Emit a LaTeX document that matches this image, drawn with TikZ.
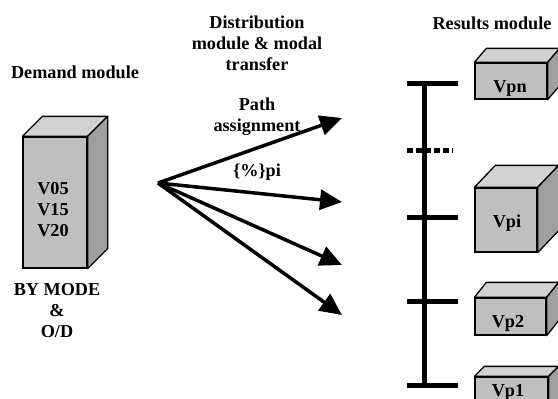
\documentclass[tikz,border=0pt]{standalone}
\usepackage{fontspec}
\setmainfont{Liberation Serif}
\usetikzlibrary{arrows.meta}

\tikzset{
  cubefront/.style={draw=black, line width=1.3pt, fill=gray!50, inner sep=0pt},
  boxtext/.style={font=\bfseries\fontsize{18.2}{21}\selectfont, align=center, inner sep=0pt},
  flow/.style={line width=3.5pt, -{Triangle[length=22pt,width=20pt]}},
  scalebar/.style={line width=5pt},
}

% top and side of a box drawn on a front node: name, dx, dy
\newcommand{\cubefaces}[3]{%
  \filldraw[fill=gray!35, line width=1.3pt, line join=round]
    (#1.north west) -- ++(#2,#3) -- ([shift={(#2,#3)}]#1.north east) -- (#1.north east) -- cycle;
  \filldraw[fill=gray!75, line width=1.3pt, line join=round]
    (#1.north east) -- ++(#2,#3) -- ([shift={(#2,#3)}]#1.south east) -- (#1.south east) -- cycle;
}

\begin{document}
\begin{tikzpicture}[x=1pt,y=-1pt]
\clip (0,0) rectangle (558,399);

% titles
\node[boxtext] (demandtitle) at (75,72) {Demand module};
\node[boxtext] (disttitle) at (257,43) {Distribution\\module \& modal\\transfer};
\node[boxtext] (restitle) at (492,23) {Results module};
\node[boxtext] (pathlabel) at (257,117) {Path\\assignment};
\node[boxtext] (pilabel) at (257,172) {\{\%\}pi};
\node[boxtext] (modelabel) at (57,311) {BY MODE\\\&\\O/D};

% demand box
\node[cubefront, minimum width=64, minimum height=131] (demand) at (55,202.5) {};
\cubefaces{demand}{20}{-20}
\node[boxtext] (vlist) at (53,210) {V05\\V15\\V20};

% results boxes
\node[cubefront, minimum width=72, minimum height=36] (vpn) at (511,81) {};
\cubefaces{vpn}{12}{-14}
\node[boxtext] (vpnlabel) at (510,88) {Vpn};

\node[cubefront, minimum width=62, minimum height=64] (vpi) at (506,220) {};
\cubefaces{vpi}{21}{-22}
\node[boxtext] (vpilabel) at (507,223) {Vpi};

\node[cubefront, minimum width=71, minimum height=37] (vp2) at (510.5,316.5) {};
\cubefaces{vp2}{12}{-15}
\node[boxtext] (vp2label) at (508,323) {Vp2};

\node[cubefront, minimum width=73, minimum height=36] (vp1) at (511.5,395) {};
\cubefaces{vp1}{10}{-10}
\node[boxtext] (vp1label) at (508,392) {Vp1};

% path scale
\coordinate (bartop) at (424,83);
\coordinate (barbot) at (424,385);
\draw[scalebar] (bartop) -- (barbot);
\draw[scalebar] (407,83) -- (458,83);
\draw[scalebar] (407,217) -- (458,217);
\draw[scalebar] (407,301) -- (458,301);
\draw[scalebar] (407,385) -- (458,385);
\draw[scalebar, dash pattern=on 6pt off 3pt] (407,150) -- (453,150);

% flows
\coordinate (src) at (158,183);
\coordinate (tipa) at (342,118);
\coordinate (tipb) at (342,202);
\coordinate (tipc) at (342,265);
\coordinate (tipd) at (342,315);
\foreach \t in {tipa,tipb,tipc,tipd}
  \draw[flow] (src) -- (\t);
\end{tikzpicture}
\end{document}
